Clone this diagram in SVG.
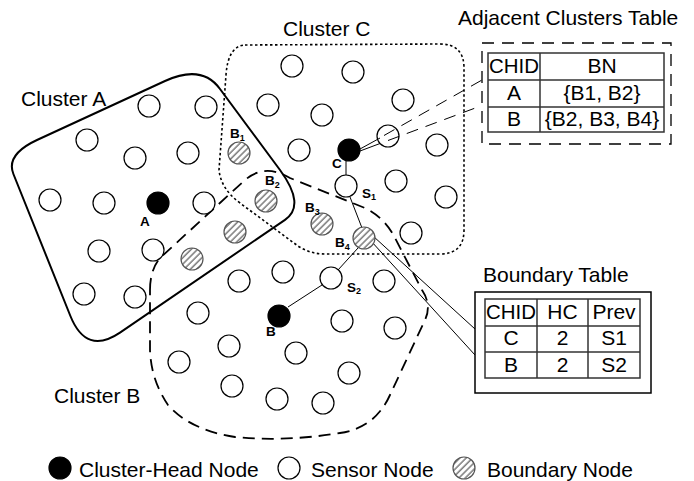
<svg xmlns="http://www.w3.org/2000/svg" width="694" height="481" viewBox="0 0 694 481">
<defs>
<pattern id="hatch" patternUnits="userSpaceOnUse" width="4.5" height="4.5" patternTransform="rotate(45)">
<rect width="4.5" height="4.5" fill="#fff"/>
<line x1="1" y1="0" x2="1" y2="4.5" stroke="#666" stroke-width="1.3"/>
</pattern>
</defs>
<style>
.big{font-family:"Liberation Sans",Arial,sans-serif;font-size:21px;fill:#000}
.tb{font-family:"Liberation Sans",Arial,sans-serif;font-size:21px;fill:#000;text-anchor:middle}
.lb{font-family:"Liberation Sans",Arial,sans-serif;font-size:13.5px;font-weight:bold;fill:#000}
.sub{font-size:9px}
.s{fill:#fff;stroke:#000;stroke-width:1.2}
.h{fill:#000;stroke:#000;stroke-width:1.2}
.b{fill:url(#hatch);stroke:#555;stroke-width:1.2}
.thin{stroke:#000;stroke-width:1;fill:none}
.cell{fill:#fff;stroke:#333;stroke-width:1.5}
</style>

<g id="clusters" fill="none" stroke="#000">
<path id="clusterA" stroke-width="2" d="M37,140 L165,81 Q202,64 220,89 L280,170 Q306,205.5 285,219.8 L120,332.7 Q86.3,355.5 70.4,316 L13.4,174 Q5.6,154.6 37,140 Z"/>
<path id="clusterC" stroke-width="1.6" stroke-dasharray="2.5,2.5" d="M245,45 L440,44 Q464,44 464,68 L464,230 Q464,254 440,254 L325,254 Q310,254 298,246 L240,203 Q221,189 219,170 L226,75 Q228,46 245,45 Z"/>
<path id="clusterB" stroke-width="1.8" stroke-dasharray="12,7" d="M150,290 Q150,270 160,258 L245,180 Q265,163 290,178 L365,208 Q385,218 395,238 L422,290 Q432,305 425,320 L390,395 Q375,428 340,433 Q285,442 235,437 Q190,430 168,405 Q151,380 150,350 Z"/>
</g>

<g id="connectors" class="thin">
<line x1="346" y1="161" x2="346" y2="176"/>
<line x1="350" y1="197" x2="362" y2="228"/>
<line x1="358" y1="248" x2="338" y2="270"/>
<line x1="322" y1="285" x2="288" y2="307"/>
<line x1="360" y1="149" x2="380" y2="138"/>
<line x1="360" y1="151" x2="380" y2="143.5"/>
<line x1="384" y1="135.5" x2="482" y2="80" stroke-dasharray="12,8"/>
<line x1="388" y1="140.5" x2="478" y2="107" stroke-dasharray="12,8"/>
<line x1="373" y1="236" x2="475" y2="329"/>
<line x1="371" y1="241" x2="475" y2="355"/>
</g>

<g id="sensors" class="s">
<circle cx="149" cy="106" r="11"/><circle cx="206" cy="107" r="11"/><circle cx="87" cy="140" r="11"/>
<circle cx="135" cy="158" r="11"/><circle cx="188" cy="153" r="11"/><circle cx="50" cy="200" r="11"/>
<circle cx="104" cy="203" r="11"/><circle cx="204" cy="203" r="11"/><circle cx="99" cy="251" r="11"/>
<circle cx="153" cy="250" r="11"/><circle cx="84" cy="294" r="11"/><circle cx="135" cy="297" r="11"/>
<circle cx="292" cy="66" r="11"/><circle cx="353" cy="72" r="11"/><circle cx="403" cy="100" r="11"/>
<circle cx="268" cy="105" r="11"/><circle cx="322" cy="115" r="11"/><circle cx="437" cy="145" r="11"/>
<circle cx="299" cy="150" r="11"/><circle cx="396" cy="181" r="11"/><circle cx="446" cy="197" r="11"/>
<circle cx="411" cy="233" r="11"/>
<circle cx="239" cy="281" r="11"/><circle cx="283" cy="272" r="11"/><circle cx="384" cy="281" r="11"/>
<circle cx="198" cy="313" r="11"/><circle cx="342" cy="321" r="11"/><circle cx="395" cy="328" r="11"/>
<circle cx="229" cy="346" r="11"/><circle cx="296" cy="353" r="11"/><circle cx="179" cy="362" r="11"/>
<circle cx="349" cy="373" r="11"/><circle cx="232" cy="386" r="11"/><circle cx="277" cy="399" r="11"/>
<circle cx="323" cy="403" r="11"/>
</g>
<g id="node-callout" class="s"><circle cx="388" cy="136" r="11" fill="none"/></g>
<g id="node-S1"><circle class="s" cx="346" cy="186" r="11"/><text class="lb" x="362" y="198">S<tspan class="sub" dy="2">1</tspan></text></g>
<g id="node-S2"><circle class="s" cx="331" cy="278" r="11"/><text class="lb" x="347" y="292">S<tspan class="sub" dy="2">2</tspan></text></g>

<g id="node-A"><circle class="h" cx="158" cy="203" r="11"/><text class="lb" x="140" y="226">A</text></g>
<g id="node-C"><circle class="h" cx="349" cy="150" r="11"/><text class="lb" x="332" y="168">C</text></g>
<g id="node-B"><circle class="h" cx="279" cy="316" r="11"/><text class="lb" x="266" y="336">B</text></g>

<g id="node-B1"><circle class="b" cx="239" cy="153" r="11"/><text class="lb" x="230" y="138">B<tspan class="sub" dy="3">1</tspan></text></g>
<g id="node-B2"><circle class="b" cx="266" cy="201" r="11"/><text class="lb" x="265" y="185">B<tspan class="sub" dy="3">2</tspan></text></g>
<g id="node-B3"><circle class="b" cx="322" cy="224" r="11"/><text class="lb" x="305" y="212">B<tspan class="sub" dy="3">3</tspan></text></g>
<g id="node-B4"><circle class="b" cx="364" cy="238" r="11"/><text class="lb" x="335" y="247">B<tspan class="sub" dy="3">4</tspan></text></g>
<g id="node-Bx1"><circle class="b" cx="235" cy="232" r="11"/></g>
<g id="node-Bx2"><circle class="b" cx="192" cy="259" r="11"/></g>

<g id="labels">
<text class="big" x="21" y="106">Cluster A</text>
<text class="big" x="283" y="36">Cluster C</text>
<text class="big" x="54" y="403">Cluster B</text>
</g>

<g id="adjacent-table">
<text class="big" x="458" y="25">Adjacent Clusters Table</text>
<rect x="482" y="43" width="189" height="101" fill="#fff" stroke="#000" stroke-width="1.3" stroke-dasharray="12,8"/>
<rect class="cell" x="488" y="53" width="176" height="79"/>
<line x1="540" y1="53" x2="540" y2="132" stroke="#333" stroke-width="1.5"/>
<line x1="488" y1="80" x2="664" y2="80" stroke="#333" stroke-width="1.5"/>
<line x1="488" y1="107" x2="664" y2="107" stroke="#333" stroke-width="1.5"/>
<text class="tb" x="514" y="73" textLength="50" lengthAdjust="spacingAndGlyphs">CHID</text><text class="tb" x="602" y="73">BN</text>
<text class="tb" x="514" y="100">A</text><text class="tb" x="602" y="100">{B1, B2}</text>
<text class="tb" x="514" y="126">B</text><text class="tb" x="602" y="126">{B2, B3, B4}</text>
</g>

<g id="boundary-table">
<text class="big" x="483" y="282">Boundary Table</text>
<rect x="475" y="292" width="176" height="101" fill="#fff" stroke="#000" stroke-width="1.5"/>
<rect class="cell" x="485" y="299" width="155" height="79"/>
<line x1="537" y1="299" x2="537" y2="378" stroke="#333" stroke-width="1.5"/>
<line x1="588" y1="299" x2="588" y2="378" stroke="#333" stroke-width="1.5"/>
<line x1="485" y1="326" x2="640" y2="326" stroke="#333" stroke-width="1.5"/>
<line x1="485" y1="352" x2="640" y2="352" stroke="#333" stroke-width="1.5"/>
<text class="tb" x="511" y="319" textLength="50" lengthAdjust="spacingAndGlyphs">CHID</text><text class="tb" x="562.5" y="319">HC</text><text class="tb" x="614" y="319">Prev</text>
<text class="tb" x="511" y="345">C</text><text class="tb" x="562.5" y="345">2</text><text class="tb" x="614" y="345">S1</text>
<text class="tb" x="511" y="372">B</text><text class="tb" x="562.5" y="372">2</text><text class="tb" x="614" y="372">S2</text>
</g>

<g id="legend">
<circle class="h" cx="60" cy="468" r="11"/>
<text class="big" x="79" y="477">Cluster-Head Node</text>
<circle class="s" cx="289" cy="468" r="11"/>
<text class="big" x="311" y="477">Sensor Node</text>
<circle class="b" cx="464" cy="468" r="11"/>
<text class="big" x="487" y="477">Boundary Node</text>
</g>
</svg>
